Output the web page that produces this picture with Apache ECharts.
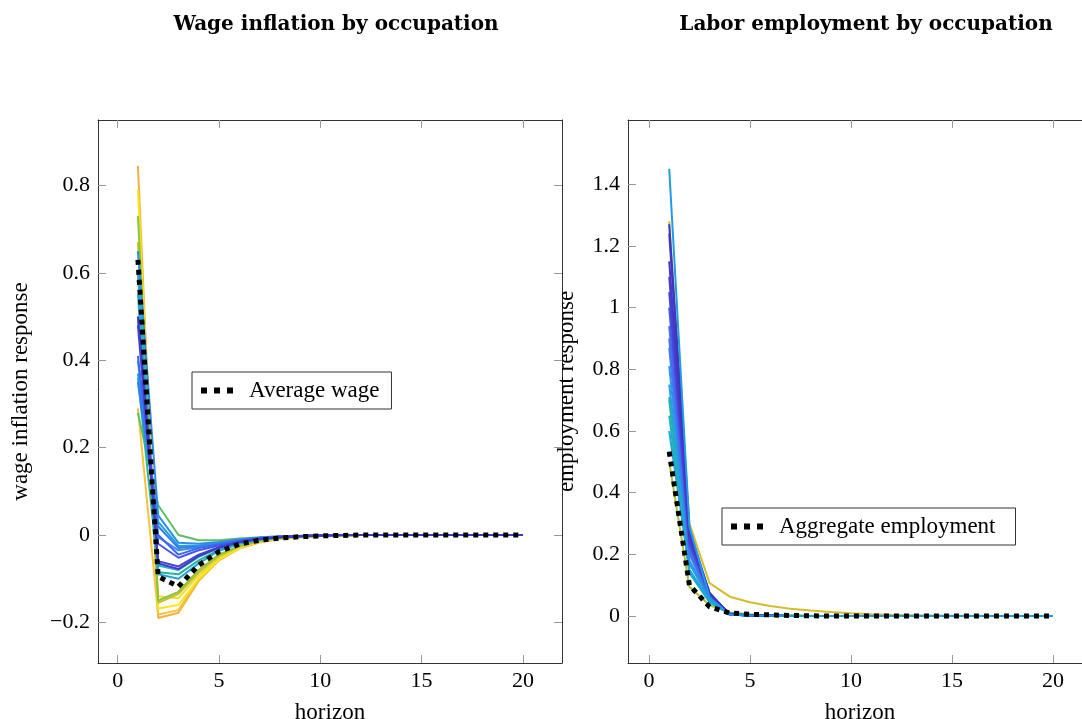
<!DOCTYPE html>
<html><head><meta charset="utf-8">
<script src="https://cdn.jsdelivr.net/npm/echarts@6/dist/echarts.min.js"></script>
<style>html,body{margin:0;padding:0;background:#fff;overflow:hidden}#c{width:1082px;height:719px}</style>
</head><body><div id="c"></div>
<script>
const horizons = [1,2,3,4,5,6,7,8,9,10,11,12,13,14,15,16,17,18,19,20];
const xTicks = [0,5,10,15,20];
const wageTicks = [-0.2,0,0.2,0.4,0.6,0.8];
const empTicks = [0,0.2,0.4,0.6,0.8,1,1.2,1.4];

const wageAverage = [0.63,-0.095,-0.118,-0.069,-0.038,-0.021,-0.012,-0.007,-0.004,-0.002,-0.001,0,0,0,0,0,0,0,0,0];
const empAggregate = [0.533,0.10,0.03,0.01,0.006,0.004,0.002,0.001,0,0,0,0,0,0,0,0,0,0,0,0];

const wageOccColors = ['#f6b13c','#f9c03a','#f8e71f','#f2dc26','#c9c12a','#8cc43c','#5cc062','#26b39e','#1fb0c8','#22a4d4','#1ca3dc','#2a8ee6','#2f7cf0','#3d8bf0','#3a66f2','#4757ea','#4a44d6','#3f3ac8'];
const wageOcc = [
  [0.845,-0.19,-0.178,-0.105,-0.058,-0.031,-0.017,-0.009,-0.005,-0.003,-0.001,0,0,0,0,0,0,0,0,0],
  [0.29,-0.182,-0.172,-0.1,-0.055,-0.03,-0.016,-0.009,-0.005,-0.002,-0.001,0,0,0,0,0,0,0,0,0],
  [0.79,-0.168,-0.16,-0.1,-0.056,-0.03,-0.016,-0.008,-0.004,-0.002,-0.001,0,0,0,0,0,0,0,0,0],
  [0.6,-0.14,-0.145,-0.092,-0.052,-0.028,-0.015,-0.008,-0.004,-0.002,-0.001,0,0,0,0,0,0,0,0,0],
  [0.67,-0.155,-0.135,-0.086,-0.048,-0.026,-0.014,-0.007,-0.004,-0.002,-0.001,0,0,0,0,0,0,0,0,0],
  [0.73,-0.15,-0.13,-0.08,-0.045,-0.025,-0.013,-0.007,-0.004,-0.002,-0.001,0,0,0,0,0,0,0,0,0],
  [0.28,0.068,0.0,-0.012,-0.012,-0.008,-0.005,-0.003,-0.002,-0.001,0,0,0,0,0,0,0,0,0,0],
  [0.36,-0.085,-0.09,-0.058,-0.034,-0.019,-0.01,-0.006,-0.003,-0.002,-0.001,0,0,0,0,0,0,0,0,0],
  [0.55,-0.07,-0.08,-0.05,-0.03,-0.017,-0.009,-0.005,-0.003,-0.001,0,0,0,0,0,0,0,0,0,0],
  [0.6,-0.09,-0.1,-0.065,-0.036,-0.02,-0.011,-0.006,-0.003,-0.001,0,0,0,0,0,0,0,0,0,0],
  [0.37,0.03,-0.025,-0.024,-0.018,-0.011,-0.006,-0.004,-0.002,-0.001,0,0,0,0,0,0,0,0,0,0],
  [0.65,0.045,-0.018,-0.02,-0.016,-0.01,-0.006,-0.003,-0.002,-0.001,0,0,0,0,0,0,0,0,0,0],
  [0.35,0.02,-0.03,-0.026,-0.02,-0.012,-0.007,-0.004,-0.002,-0.001,0,0,0,0,0,0,0,0,0,0],
  [0.4,-0.005,-0.035,-0.028,-0.02,-0.012,-0.007,-0.004,-0.002,-0.001,0,0,0,0,0,0,0,0,0,0],
  [0.41,0.0,-0.045,-0.03,-0.021,-0.013,-0.007,-0.004,-0.002,-0.001,0,0,0,0,0,0,0,0,0,0],
  [0.5,-0.02,-0.052,-0.035,-0.024,-0.014,-0.008,-0.004,-0.002,-0.001,0,0,0,0,0,0,0,0,0,0],
  [0.48,-0.06,-0.072,-0.045,-0.028,-0.016,-0.009,-0.005,-0.003,-0.001,0,0,0,0,0,0,0,0,0,0],
  [0.5,-0.065,-0.078,-0.048,-0.029,-0.016,-0.009,-0.005,-0.003,-0.001,0,0,0,0,0,0,0,0,0,0]
];

const empOccColors = ['#d6bb2a','#a8c232','#48bc72','#22b3a8','#1fb0c4','#1ca8d8','#26a0e0','#2c94e6','#3486ee','#3b78f2','#5068ee','#4758e6','#4149dc','#4a3fd2','#4936c4','#4438cc','#3f36c0','#1f9ce8'];
const empOcc = [
  [1.28,0.30,0.107,0.063,0.045,0.033,0.024,0.018,0.013,0.009,0.006,0.004,0.003,0.002,0.001,0.001,0,0,0,0],
  [0.5,0.095,0.035,0.012,0.006,0.003,0.002,0.001,0,0,0,0,0,0,0,0,0,0,0,0],
  [0.7,0.14,0.05,0.01,0.004,0.002,0.001,0,0,0,0,0,0,0,0,0,0,0,0,0],
  [0.71,0.15,0.05,0.009,0.004,0.002,0.001,0,0,0,0,0,0,0,0,0,0,0,0,0],
  [0.65,0.14,0.045,0.008,0.003,0.002,0.001,0,0,0,0,0,0,0,0,0,0,0,0,0],
  [0.6,0.15,0.045,0.007,0.003,0.001,0,0,0,0,0,0,0,0,0,0,0,0,0,0],
  [0.75,0.17,0.055,0.008,0.003,0.001,0,0,0,0,0,0,0,0,0,0,0,0,0,0],
  [0.81,0.18,0.06,0.008,0.003,0.001,0,0,0,0,0,0,0,0,0,0,0,0,0,0],
  [0.87,0.2,0.06,0.007,0.003,0.001,0,0,0,0,0,0,0,0,0,0,0,0,0,0],
  [0.9,0.21,0.065,0.007,0.003,0.001,0,0,0,0,0,0,0,0,0,0,0,0,0,0],
  [0.94,0.22,0.065,0.006,0.002,0.001,0,0,0,0,0,0,0,0,0,0,0,0,0,0],
  [1.0,0.23,0.07,0.006,0.002,0.001,0,0,0,0,0,0,0,0,0,0,0,0,0,0],
  [1.05,0.24,0.07,0.006,0.002,0.001,0,0,0,0,0,0,0,0,0,0,0,0,0,0],
  [1.1,0.25,0.072,0.005,0.002,0.001,0,0,0,0,0,0,0,0,0,0,0,0,0,0],
  [1.15,0.26,0.072,0.005,0.002,0.001,0,0,0,0,0,0,0,0,0,0,0,0,0,0],
  [1.24,0.27,0.075,0.005,0.002,0.001,0,0,0,0,0,0,0,0,0,0,0,0,0,0],
  [1.27,0.28,0.075,0.005,0.002,0.001,0,0,0,0,0,0,0,0,0,0,0,0,0,0],
  [1.45,0.29,0.06,0.004,0.002,0.001,0,0,0,0,0,0,0,0,0,0,0,0,0,0]
];

const SERIF = '"Liberation Serif", serif';
const TITLEFONT = '"DejaVu Serif", serif';
const AXIS_COLOR = '#333';
const fmt = v => (Math.abs(v) < 1e-9 ? '0' : String(+v.toFixed(2)).replace('-', '\u2212'));

function xAx(gridIndex, pos, showLabels, min, max) {
  return {
    type: 'value', gridIndex, position: pos, min, max,
    name: showLabels ? 'horizon' : '', nameLocation: 'middle', nameGap: 38,
    nameTextStyle: { fontFamily: SERIF, fontSize: 23, color: '#000' },
    axisLine: { show: true, onZero: false, lineStyle: { color: AXIS_COLOR, width: 1 } },
    axisTick: { show: true, inside: true, length: 8, customValues: xTicks, lineStyle: { color: '#999' } },
    axisLabel: { show: showLabels, customValues: xTicks, fontFamily: SERIF, fontSize: 22, color: '#000', margin: 7 },
    splitLine: { show: false }
  };
}
function yAx(gridIndex, pos, showLabels, min, max, ticks, name, gap, showLine) {
  return {
    type: 'value', gridIndex, position: pos, min, max,
    name: showLabels ? name : '', nameLocation: 'middle', nameGap: gap, nameRotate: 90,
    nameTextStyle: { fontFamily: SERIF, fontSize: 23, color: '#000' },
    axisLine: { show: showLine, onZero: false, lineStyle: { color: AXIS_COLOR, width: 1 } },
    axisTick: { show: showLine, inside: true, length: 8, customValues: ticks, lineStyle: { color: '#999' } },
    axisLabel: { show: showLabels, customValues: ticks, formatter: fmt, fontFamily: SERIF, fontSize: 22, color: '#000', margin: 8 },
    splitLine: { show: false }
  };
}

const series = [];
wageOcc.forEach((vals, k) => series.push({
  type: 'line', name: 'wage occ ' + (k + 1), xAxisIndex: 0, yAxisIndex: 0,
  data: horizons.map((h, i) => [h, vals[i]]), symbol: 'none', silent: true,
  lineStyle: { color: wageOccColors[k], width: 2 }, itemStyle: { color: wageOccColors[k] }
}));
series.push({
  type: 'line', name: 'Average wage', xAxisIndex: 0, yAxisIndex: 0,
  data: horizons.map((h, i) => [h, wageAverage[i]]), symbol: 'none', z: 5,
  lineStyle: { color: '#000', width: 5, type: [5, 5] }, itemStyle: { color: '#000' }
});
empOcc.forEach((vals, k) => series.push({
  type: 'line', name: 'emp occ ' + (k + 1), xAxisIndex: 2, yAxisIndex: 2,
  data: horizons.map((h, i) => [h, vals[i]]), symbol: 'none', silent: true,
  lineStyle: { color: empOccColors[k], width: 2 }, itemStyle: { color: empOccColors[k] }
}));
series.push({
  type: 'line', name: 'Aggregate employment', xAxisIndex: 2, yAxisIndex: 2,
  data: horizons.map((h, i) => [h, empAggregate[i]]), symbol: 'none', z: 5,
  lineStyle: { color: '#000', width: 5, type: [5, 5] }, itemStyle: { color: '#000' }
});

const legendBase = {
  orient: 'horizontal', borderColor: '#333', borderWidth: 1, backgroundColor: '#fff', borderRadius: 0,
  icon: 'path://M0,0h6v6h-6z M13,0h6v6h-6z M26,0h6v6h-6z',
  itemWidth: 32, itemHeight: 6, itemGap: 10,
  itemStyle: { color: '#000', borderWidth: 0 },
  textStyle: { fontFamily: SERIF, fontSize: 23, color: '#000', padding: [0, 0, 0, 11] }
};

const chart = echarts.init(document.getElementById('c'), null, { renderer: 'canvas' });
chart.setOption({
  animation: false,
  backgroundColor: '#fff',
  title: [
    { text: 'Wage inflation by occupation', left: 331, top: 10, textAlign: 'center',
      textStyle: { fontFamily: TITLEFONT, fontWeight: 'bold', fontSize: 20, color: '#000' } },
    { text: 'Labor employment by occupation', left: 861, top: 10, textAlign: 'center',
      textStyle: { fontFamily: TITLEFONT, fontWeight: 'bold', fontSize: 20, color: '#000' } }
  ],
  legend: [
    Object.assign({}, legendBase, { data: ['Average wage'], left: 192, top: 372, padding: [7, 12, 7, 9] }),
    Object.assign({}, legendBase, { data: ['Aggregate employment'], left: 722, top: 508, padding: [7, 20, 7, 9] })
  ],
  grid: [
    { left: 98, top: 120, width: 464, height: 543, outerBoundsMode: 'none', containLabel: false },
    { left: 628, top: 120, width: 464, height: 543, outerBoundsMode: 'none', containLabel: false }
  ],
  xAxis: [
    xAx(0, 'bottom', true, -0.97, 21.93),
    xAx(0, 'top', false, -0.97, 21.93),
    xAx(1, 'bottom', true, -1.04, 21.93),
    xAx(1, 'top', false, -1.04, 21.93)
  ],
  yAxis: [
    yAx(0, 'left', true, -0.293, 0.95, wageTicks, 'wage inflation response', 66, true),
    yAx(0, 'right', false, -0.293, 0.95, wageTicks, '', 0, true),
    yAx(1, 'left', true, -0.152, 1.608, empTicks, 'employment response', 50, true),
    yAx(1, 'right', false, -0.152, 1.608, empTicks, '', 0, false)
  ],
  series
});
</script>
</body></html>
